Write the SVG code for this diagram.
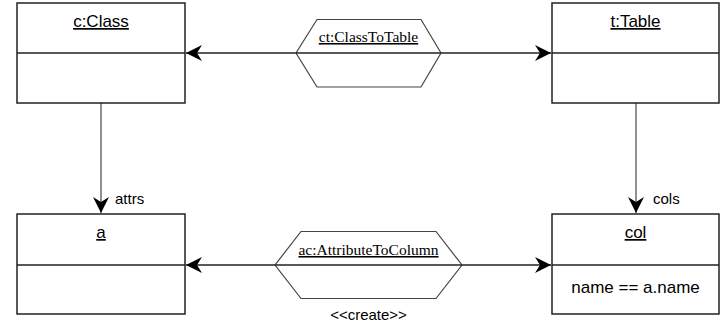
<svg xmlns="http://www.w3.org/2000/svg" width="725" height="324" viewBox="0 0 725 324">
<defs>
<marker id="arr" viewBox="-17 -9 18 18" refX="0" refY="0" markerWidth="18" markerHeight="18" markerUnits="userSpaceOnUse" orient="auto">
<path d="M0,0 L-16,-8 L-11,0 L-16,8 Z" fill="#000"/>
</marker>
</defs>
<style>
.box{fill:#fff;stroke:#222;stroke-width:1.5}
.div{stroke:#222;stroke-width:1.5}
.hex{fill:#fff;stroke:#444;stroke-width:1.2}
.edge{fill:none;stroke:#222;stroke-width:1.5}
.vedge{fill:none;stroke:#555;stroke-width:1.3}
.t{font-family:"Liberation Sans",Arial,sans-serif;font-size:17px;fill:#000;text-anchor:middle}
.u{text-decoration:underline}
.s{font-family:"Liberation Serif","Times New Roman",serif;font-size:15.5px;fill:#000;text-anchor:middle;text-decoration:underline}
.l{font-family:"Liberation Sans",Arial,sans-serif;font-size:15px;fill:#000}
</style>
<g id="connectors">
<line class="edge" x1="296" y1="53" x2="186" y2="53" marker-end="url(#arr)"/>
<line class="edge" x1="441" y1="53" x2="551" y2="53" marker-end="url(#arr)"/>
<line class="edge" x1="275" y1="265" x2="186" y2="265" marker-end="url(#arr)"/>
<line class="edge" x1="462" y1="265" x2="551" y2="265" marker-end="url(#arr)"/>
<line class="vedge" x1="101" y1="103" x2="101" y2="213" marker-end="url(#arr)"/>
<line class="vedge" x1="636" y1="103" x2="636" y2="213" marker-end="url(#arr)"/>
<text class="l" x="115" y="204">attrs</text>
<text class="l" x="653" y="204">cols</text>
<text class="l" x="368.5" y="320" text-anchor="middle">&lt;&lt;create&gt;&gt;</text>
</g>
<g id="cClass">
<rect class="box" x="17" y="3" width="168" height="100"/>
<line class="div" x1="17" y1="53" x2="185" y2="53"/>
<text class="t u" x="101" y="27">c:Class</text>
</g>
<g id="tTable">
<rect class="box" x="552" y="3" width="167" height="100"/>
<line class="div" x1="552" y1="53" x2="719" y2="53"/>
<text class="t u" x="635.5" y="27">t:Table</text>
</g>
<g id="ctClassToTable">
<polygon class="hex" points="317,19.5 421,19.5 441,53 421,87 317,87 296,53"/>
<line class="div" x1="296" y1="53" x2="441" y2="53"/>
<text class="s" x="368.5" y="42">ct:ClassToTable</text>
</g>
<g id="a">
<rect class="box" x="17" y="214" width="168" height="100"/>
<line class="div" x1="17" y1="265" x2="185" y2="265"/>
<text class="t u" x="101" y="238">a</text>
</g>
<g id="col">
<rect class="box" x="552" y="214" width="167" height="100"/>
<line class="div" x1="552" y1="265" x2="719" y2="265"/>
<text class="t u" x="635.5" y="238">col</text>
<text class="t" x="635.5" y="293">name == a.name</text>
</g>
<g id="acAttributeToColumn">
<polygon class="hex" points="301,231.5 436,231.5 462,265 436,298.5 301,298.5 275,265"/>
<line class="div" x1="275" y1="265" x2="462" y2="265"/>
<text class="s" x="368.5" y="255">ac:AttributeToColumn</text>
</g>
</svg>
